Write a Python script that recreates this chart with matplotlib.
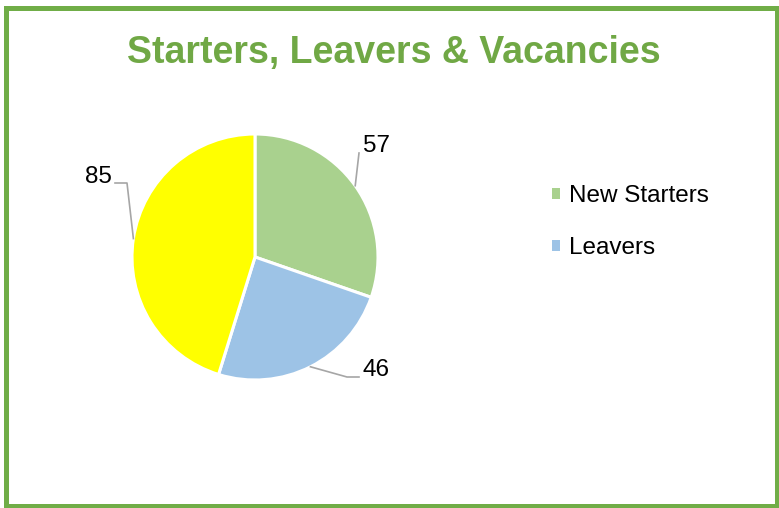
import matplotlib.pyplot as plt
import numpy as np
from matplotlib.patches import Patch, Rectangle

# data
names = ['New Starters', 'Leavers', 'Vacancies']
values = [57, 46, 85]
colors = ['#A9D18E', '#9DC3E6', '#FFFF00']
legend_names = names[:2]  # the reference legend only lists the first two

plt.rcParams['font.family'] = ['Liberation Sans', 'DejaVu Sans']

fig = plt.figure(figsize=(7.79, 5.08), dpi=100)
ax = fig.add_axes([0, 0, 1, 1])

# work in pixel units so the layout is easy to match
cx, cy, r = 255, 251, 123
wedges, _ = ax.pie(values, colors=colors, startangle=90, counterclock=False,
                   radius=r, center=(cx, cy),
                   wedgeprops=dict(edgecolor='white', linewidth=2.2))
ax.set_xlim(0, 779)
ax.set_ylim(0, 508)
ax.axis('off')

# leader lines: elbow points and label spots (layout only)
elbows = [[(359, 355)], [(347, 131), (359, 131)], [(127, 325), (115, 325)]]
label_pos = [(377, 362), (376, 138), (98, 331)]
for w, val, elb, pos in zip(wedges, values, elbows, label_pos):
    mid = np.deg2rad((w.theta1 + w.theta2) / 2)
    start = (cx + r * np.cos(mid), cy + r * np.sin(mid))
    pts = [start] + elb
    ax.plot([p[0] for p in pts], [p[1] for p in pts], color='#A6A6A6', lw=1.2)
    ax.text(pos[0], pos[1], str(val), fontsize=17.5, ha='center', va='center', color='black')

# legend with small square markers
handles = [Patch(facecolor=c, edgecolor='none') for c in colors[:2]]
ax.legend(handles, legend_names, loc='upper left', bbox_to_anchor=(552, 323),
          bbox_transform=ax.transData, frameon=False, fontsize=17.5,
          handlelength=0.34, handleheight=0.34, handletextpad=0.38,
          labelspacing=1.25, borderpad=0, borderaxespad=0)

fig.text(0.506, 0.876, 'Starters, Leavers & Vacancies', ha='center', va='baseline',
         fontsize=27, fontweight='bold', color='#70A845')

# green frame round the whole chart
fig.patches.append(Rectangle((0.0083, 0.003), 0.9897, 0.982, transform=fig.transFigure,
                             fill=False, edgecolor='#70AD47', linewidth=3.6))

fig.savefig('out.png', dpi=100)
